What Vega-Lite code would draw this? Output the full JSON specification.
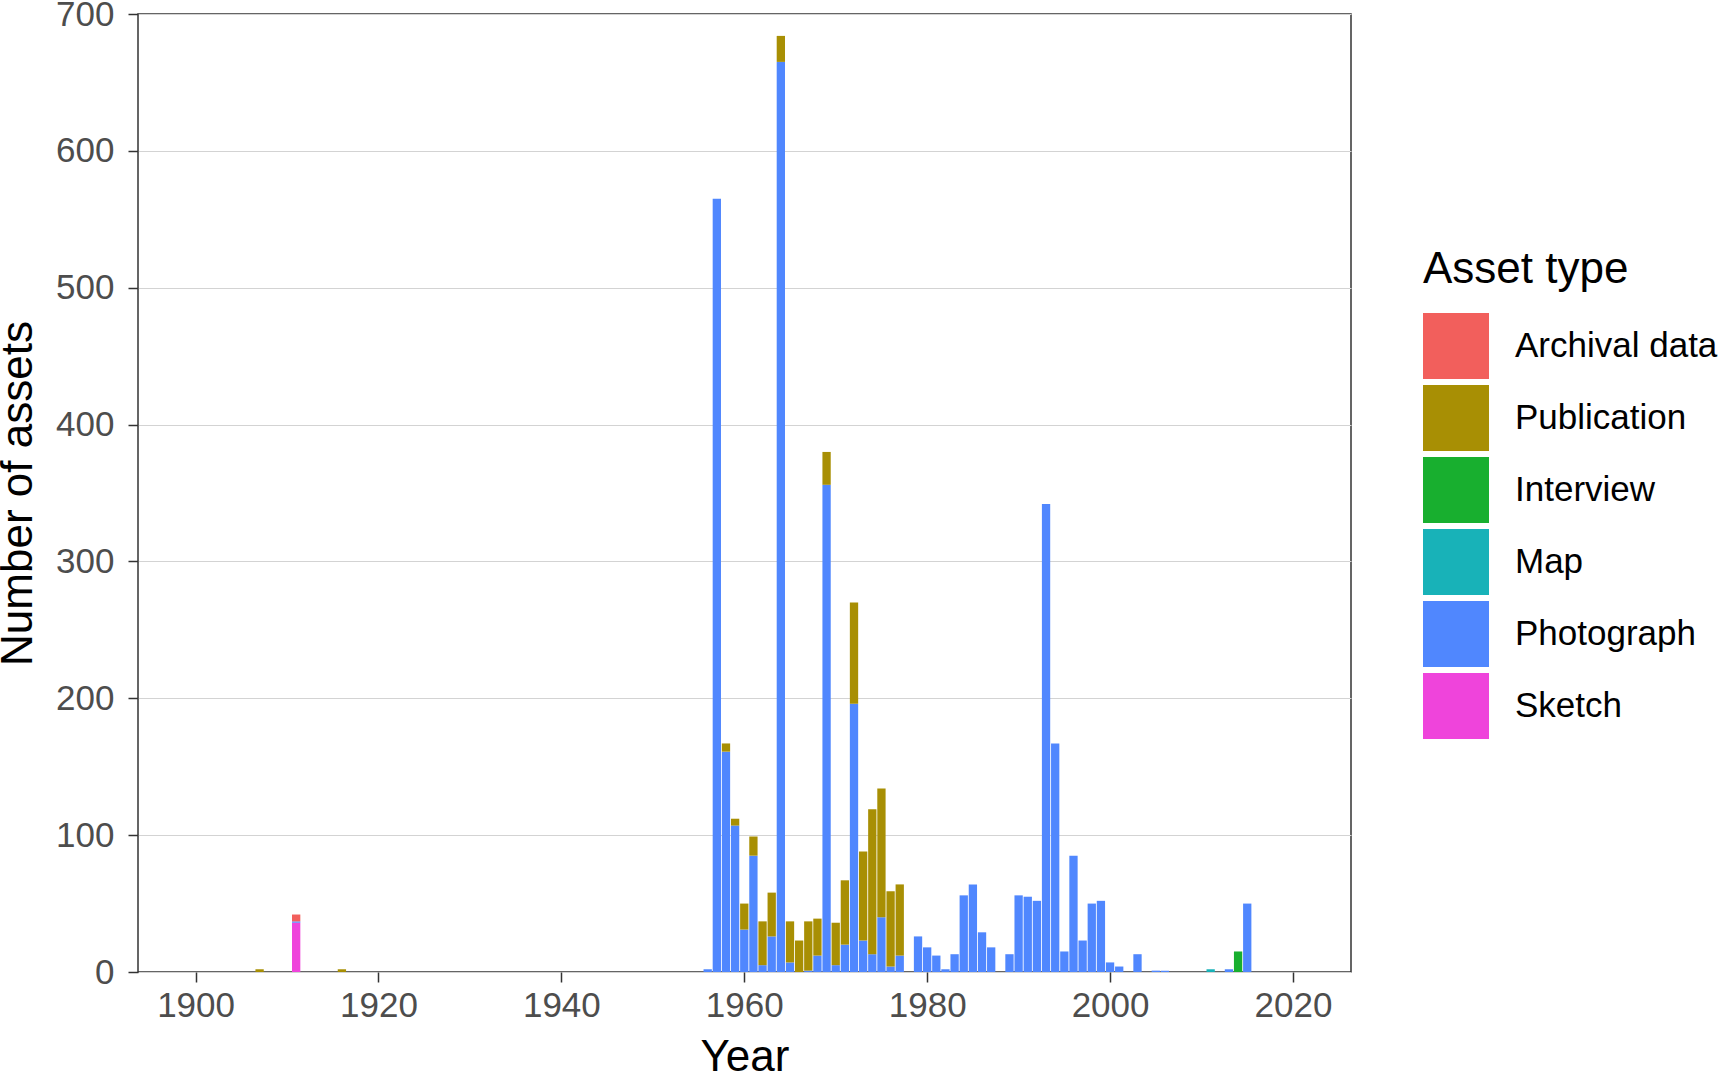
{
  "$schema": "https://vega.github.io/schema/vega-lite/v6.json",
  "autosize": {"type": "none"},
  "padding": {"left": 138, "top": 14, "right": 376, "bottom": 101},
  "width": 1213,
  "height": 958,
  "background": "white",
  "config": {
    "font": "Liberation Sans",
    "view": {"stroke": "#333333", "strokeWidth": 1.5},
    "axis": {"domain": false, "tickColor": "#333333", "tickWidth": 1.5, "tickSize": 10, "labelColor": "#4D4D4D", "labelFontSize": 35, "labelFont": "Liberation Sans", "titleFont": "Liberation Sans", "titleFontSize": 44, "titleFontWeight": "normal", "titleColor": "#000000"}
  },
  "datasets": {
    "levels": [
      {"type": "Sketch", "level": 1},
      {"type": "Photograph", "level": 2},
      {"type": "Map", "level": 3},
      {"type": "Interview", "level": 4},
      {"type": "Publication", "level": 5},
      {"type": "Archival data", "level": 6}
    ]
  },
  "data": {"values": [
    {"year": 1907, "type": "Publication", "n": 2},
    {"year": 1911, "type": "Sketch", "n": 36},
    {"year": 1911, "type": "Photograph", "n": 1},
    {"year": 1911, "type": "Archival data", "n": 5},
    {"year": 1916, "type": "Publication", "n": 2},
    {"year": 1956, "type": "Photograph", "n": 2},
    {"year": 1957, "type": "Photograph", "n": 565},
    {"year": 1958, "type": "Photograph", "n": 161},
    {"year": 1958, "type": "Publication", "n": 6},
    {"year": 1959, "type": "Photograph", "n": 107},
    {"year": 1959, "type": "Publication", "n": 5},
    {"year": 1960, "type": "Photograph", "n": 31},
    {"year": 1960, "type": "Publication", "n": 19},
    {"year": 1961, "type": "Photograph", "n": 85},
    {"year": 1961, "type": "Publication", "n": 14},
    {"year": 1962, "type": "Photograph", "n": 5},
    {"year": 1962, "type": "Publication", "n": 32},
    {"year": 1963, "type": "Photograph", "n": 26},
    {"year": 1963, "type": "Publication", "n": 32},
    {"year": 1964, "type": "Photograph", "n": 665},
    {"year": 1964, "type": "Publication", "n": 19},
    {"year": 1965, "type": "Photograph", "n": 7},
    {"year": 1965, "type": "Publication", "n": 30},
    {"year": 1966, "type": "Publication", "n": 23},
    {"year": 1967, "type": "Photograph", "n": 1},
    {"year": 1967, "type": "Publication", "n": 36},
    {"year": 1968, "type": "Photograph", "n": 12},
    {"year": 1968, "type": "Publication", "n": 27},
    {"year": 1969, "type": "Photograph", "n": 356},
    {"year": 1969, "type": "Publication", "n": 24},
    {"year": 1970, "type": "Photograph", "n": 5},
    {"year": 1970, "type": "Publication", "n": 31},
    {"year": 1971, "type": "Photograph", "n": 20},
    {"year": 1971, "type": "Publication", "n": 47},
    {"year": 1972, "type": "Photograph", "n": 196},
    {"year": 1972, "type": "Publication", "n": 74},
    {"year": 1973, "type": "Photograph", "n": 23},
    {"year": 1973, "type": "Publication", "n": 65},
    {"year": 1974, "type": "Photograph", "n": 13},
    {"year": 1974, "type": "Publication", "n": 106},
    {"year": 1975, "type": "Photograph", "n": 40},
    {"year": 1975, "type": "Publication", "n": 94},
    {"year": 1976, "type": "Photograph", "n": 4},
    {"year": 1976, "type": "Publication", "n": 55},
    {"year": 1977, "type": "Photograph", "n": 12},
    {"year": 1977, "type": "Publication", "n": 52},
    {"year": 1979, "type": "Photograph", "n": 26},
    {"year": 1980, "type": "Photograph", "n": 18},
    {"year": 1981, "type": "Photograph", "n": 12},
    {"year": 1982, "type": "Photograph", "n": 2},
    {"year": 1983, "type": "Photograph", "n": 13},
    {"year": 1984, "type": "Photograph", "n": 56},
    {"year": 1985, "type": "Photograph", "n": 64},
    {"year": 1986, "type": "Photograph", "n": 29},
    {"year": 1987, "type": "Photograph", "n": 18},
    {"year": 1989, "type": "Photograph", "n": 13},
    {"year": 1990, "type": "Photograph", "n": 56},
    {"year": 1991, "type": "Photograph", "n": 55},
    {"year": 1992, "type": "Photograph", "n": 52},
    {"year": 1993, "type": "Photograph", "n": 342},
    {"year": 1994, "type": "Photograph", "n": 167},
    {"year": 1995, "type": "Photograph", "n": 15},
    {"year": 1996, "type": "Photograph", "n": 85},
    {"year": 1997, "type": "Photograph", "n": 23},
    {"year": 1998, "type": "Photograph", "n": 50},
    {"year": 1999, "type": "Photograph", "n": 52},
    {"year": 2000, "type": "Photograph", "n": 7},
    {"year": 2001, "type": "Photograph", "n": 4},
    {"year": 2003, "type": "Photograph", "n": 13},
    {"year": 2005, "type": "Photograph", "n": 1},
    {"year": 2006, "type": "Photograph", "n": 1},
    {"year": 2011, "type": "Map", "n": 2},
    {"year": 2013, "type": "Photograph", "n": 2},
    {"year": 2014, "type": "Interview", "n": 15},
    {"year": 2015, "type": "Photograph", "n": 50}
  ]},
  "transform": [
    {"lookup": "type", "from": {"data": {"name": "levels"}, "key": "type", "fields": ["level"]}}
  ],
  "mark": {"type": "bar", "width": 8.3},
  "encoding": {
    "x": {
      "field": "year", "type": "quantitative", "title": "Year",
      "scale": {"domain": [1894.25, 2025.8], "nice": false, "zero": false},
      "axis": {"values": [1900, 1920, 1940, 1960, 1980, 2000, 2020], "format": "d", "grid": false, "labelPadding": 6, "labelFlush": false, "titleX": 606.5, "titleY": 63, "titleBaseline": "top", "titleAnchor": "middle"}
    },
    "y": {
      "field": "n", "type": "quantitative", "stack": "zero", "title": "Number of assets",
      "scale": {"domain": [0, 700], "nice": false},
      "axis": {"values": [0, 100, 200, 300, 400, 500, 600, 700], "grid": true, "gridColor": "#D3D3D3", "gridWidth": 1.1, "labelPadding": 14, "labelFlush": false, "titleX": -120, "titleY": 479, "titleAngle": -90, "titleBaseline": "middle", "titleAnchor": "middle"}
    },
    "order": {"field": "level", "type": "quantitative", "sort": "ascending"},
    "color": {
      "field": "type", "type": "nominal", "title": "Asset type",
      "scale": {"domain": ["Archival data", "Publication", "Interview", "Map", "Photograph", "Sketch"], "range": ["#F25F5C", "#A88F04", "#18AF2F", "#18B2B8", "#5087FE", "#EF44DB"]},
      "legend": {"orient": "none", "legendX": 1285, "legendY": 234, "padding": 0, "titleFontSize": 44, "titleFontWeight": "normal", "titleColor": "#000000", "titlePadding": 21, "titleLimit": 600, "symbolType": "square", "symbolSize": 4356, "symbolStrokeWidth": 0, "symbolOpacity": 1, "labelFontSize": 35, "labelColor": "#000000", "labelOffset": 26, "rowPadding": 6, "labelLimit": 400}
    }
  }
}
